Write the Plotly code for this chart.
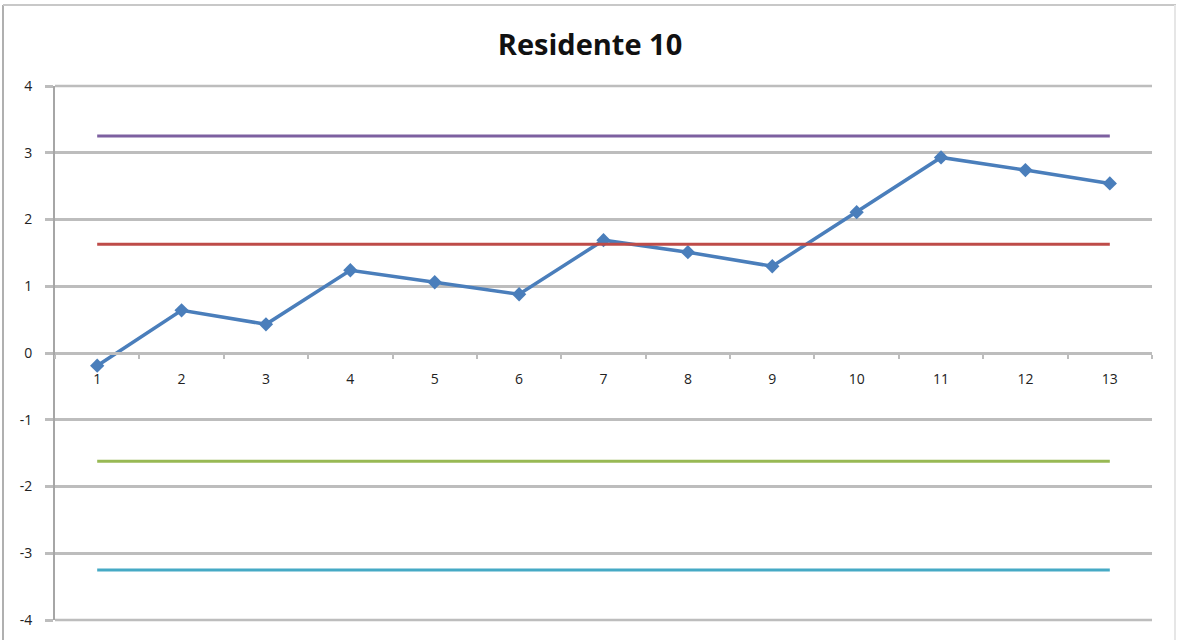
import plotly.graph_objects as go

# Observation index and score per session
sessions = list(range(1, 14))
scores = [-0.19, 0.64, 0.43, 1.24, 1.06, 0.88, 1.69, 1.51, 1.30, 2.11, 2.93, 2.74, 2.54]

# Reference limits drawn as flat lines across all sessions
upper_outer = 3.25
upper_inner = 1.63
lower_inner = -1.62
lower_outer = -3.25

y_ticks = [-4, -3, -2, -1, 0, 1, 2, 3, 4]

W, H = 1177, 640
L, R, T, B = 55, 25, 86, 20
plot_w = W - L - R
plot_h = H - T - B

fig = go.Figure()

# main series first, limit lines on top of it
fig.add_trace(go.Scatter(
    x=sessions, y=scores, mode="lines+markers",
    line=dict(color="#4A7EBB", width=3.5),
    marker=dict(symbol="diamond", size=11, color="#4A7EBB"),
    showlegend=False,
))

limit_lines = [
    (upper_outer, "#7D60A0"),
    (upper_inner, "#BE4B48"),
    (lower_inner, "#98B954"),
    (lower_outer, "#46AAC5"),
]
for val, col in limit_lines:
    fig.add_trace(go.Scatter(
        x=sessions, y=[val] * len(sessions), mode="lines",
        line=dict(color=col, width=3), hoverinfo="skip", showlegend=False,
    ))

axis_font = dict(family="Open Sans, Noto Sans, sans-serif", size=14, color="#222222")
grid_col = "#bdbdbd"

# gridlines on the top and bottom edges of the plot area (the axis skips them)
edge_grid = [
    dict(type="line", xref="paper", yref="paper", x0=0, x1=1, y0=yy, y1=yy,
         line=dict(color=grid_col, width=2.5), layer="below")
    for yy in (0, 1)
]

frame = [
    dict(type="line", xref="paper", yref="paper",
         x0=(3 - L) / plot_w, x1=(3 - L) / plot_w, y0=(H - B - 5) / plot_h, y1=-B / plot_h - 0.05,
         line=dict(color="#b0b0b0", width=2)),
    dict(type="line", xref="paper", yref="paper",
         x0=(3 - L) / plot_w, x1=(1176 - L) / plot_w,
         y0=(H - B - 5) / plot_h, y1=(H - B - 5) / plot_h,
         line=dict(color="#c8c8c8", width=2)),
    dict(type="line", xref="paper", yref="paper",
         x0=(1175 - L) / plot_w, x1=(1175 - L) / plot_w,
         y0=(H - B - 5) / plot_h, y1=-B / plot_h - 0.05,
         line=dict(color="#e6e6e6", width=2)),
]

fig.update_layout(
    width=W, height=H,
    margin=dict(l=L, r=R, t=T, b=B),
    paper_bgcolor="white", plot_bgcolor="white",
    title=dict(text="<b>Residente 10</b>", x=590 / W, xanchor="center",
               y=1 - 45 / H, yanchor="middle",
               font=dict(family="Open Sans, Noto Sans, sans-serif", size=29, color="#111111")),
    xaxis=dict(
        range=[0.5, 13.5], tickvals=sessions, ticktext=[str(s) for s in sessions],
        showgrid=False, zeroline=False, ticks="",
        showline=True, linecolor=grid_col, linewidth=2.5,
        anchor="free", position=0.5, ticklabelstandoff=12,
        tickfont=axis_font,
        minor=dict(tickvals=[i + 0.5 for i in range(0, 14)], ticks="outside",
                   ticklen=4, tickcolor=grid_col, tickwidth=2, showgrid=False),
    ),
    yaxis=dict(
        range=[-4, 4], tickvals=y_ticks, ticktext=[str(v) for v in y_ticks],
        showgrid=True, gridcolor=grid_col, gridwidth=2.5, zeroline=False,
        showline=True, linecolor="#a6a6a6", linewidth=2,
        ticks="outside", ticklen=8, tickcolor=grid_col, tickwidth=2.5,
        ticklabelstandoff=10, tickfont=axis_font,
    ),
    shapes=edge_grid + frame,
)

fig.write_html("out.html")
